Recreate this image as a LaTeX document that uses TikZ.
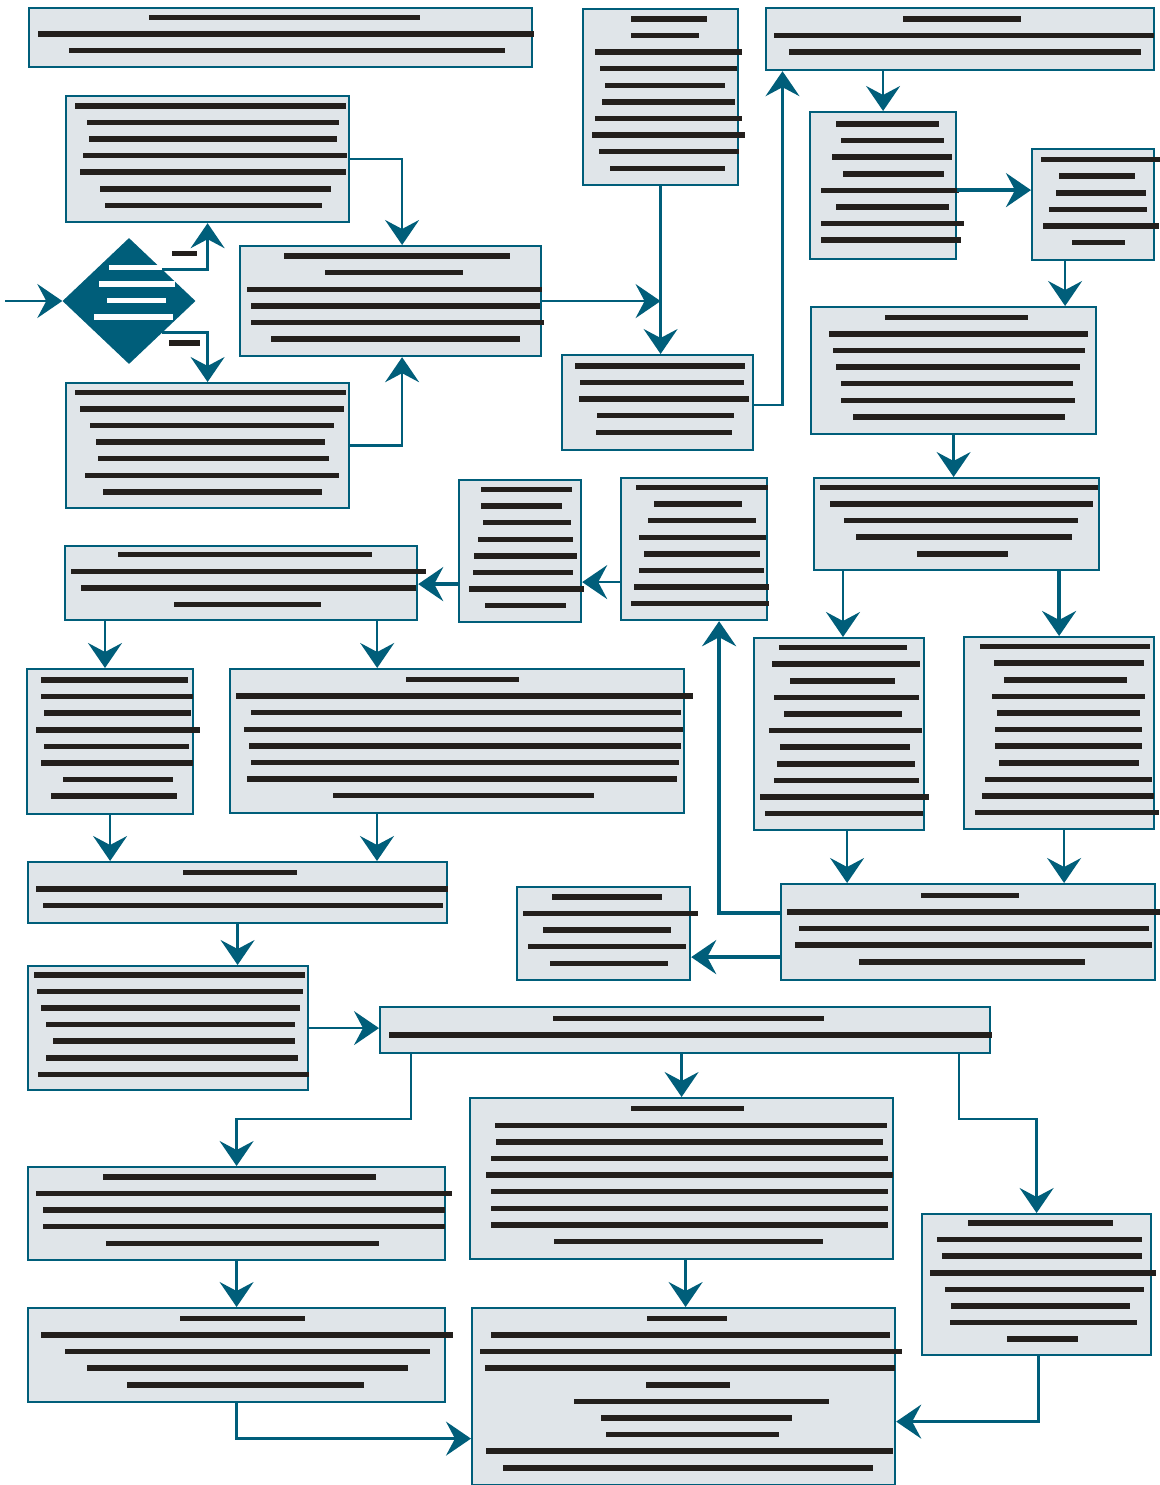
\documentclass[tikz,border=0pt]{standalone}
\usepackage{tikz}
\usetikzlibrary{arrows.meta,positioning,shapes.geometric}
\definecolor{flowblue}{RGB}{0,94,122}
\definecolor{panelgray}{RGB}{224,229,233}
\definecolor{barink}{RGB}{35,31,28}
\setlength{\parindent}{0pt}
\tikzstyle{redacted flow}=[
    x=1pt,y=-1pt,
    >={Stealth[length=25pt,width=34pt,inset=9pt]},
    every node/.style={
        inner sep=0pt,
        font=\fontsize{10pt}{16.6pt}\selectfont,
    }]
\tikzstyle{panel}=[draw=flowblue, fill=panelgray, line width=2.2pt, anchor=north west, align=left, text=barink]
\tikzstyle{decision}=[diamond, fill=flowblue, text=white, align=left, text width=90pt, inner sep=-20pt, minimum width=133pt, minimum height=126pt]
\tikzstyle{branch}=[text=barink]
\tikzstyle{flow}=[->, draw=flowblue, line width=2.4pt]
\tikzstyle{heavy flow}=[flow, line width=4pt]
\newcommand{\redact}[2]{\hspace*{#1pt}\rule[7pt]{#2pt}{5.5pt}}

\begin{document}
\begin{tikzpicture}[redacted flow]
    \useasboundingbox (0,0) rectangle (1159,1485);

    \node[panel, text width=503pt, minimum height=59pt] (b1) at (28,7) {\redact{120}{271}\\\redact{9}{496}\\\redact{40}{436}};
    \node[panel, text width=283pt, minimum height=126pt] (b2) at (65,95) {\redact{9}{271}\\\redact{21}{252}\\\redact{23}{248}\\\redact{17}{264}\\\redact{14}{266}\\\redact{34}{231}\\\redact{39}{217}};
    \node[panel, text width=283pt, minimum height=125pt] (b3) at (65,382) {\redact{9}{271}\\\redact{14}{264}\\\redact{24}{244}\\\redact{30}{229}\\\redact{32}{231}\\\redact{19}{254}\\\redact{37}{219}};
    \node[decision] (dec) at (129,301) {\redact{25}{53}\\\redact{15}{76}\\\redact{23}{59}\\\redact{10}{79}\rule[-10.5pt]{0pt}{10.5pt}};
    \node[panel, text width=301pt, minimum height=110pt] (b4) at (239,245) {\redact{44}{226}\\\redact{85}{138}\\\redact{7}{295}\\\redact{11}{289}\\\redact{11}{293}\\\redact{31}{249}};
    \node[panel, text width=155pt, minimum height=176pt] (b5) at (582,8) {\redact{48}{76}\\\redact{48}{68}\\\redact{12}{147}\\\redact{17}{137}\\\redact{22}{120}\\\redact{19}{133}\\\redact{12}{147}\\\redact{9}{153}\\\redact{16}{140}\\\redact{27}{115}};
    \node[panel, text width=191pt, minimum height=95pt] (b6) at (561,354) {\redact{13}{170}\\\redact{18}{164}\\\redact{17}{170}\\\redact{35}{137}\\\redact{34}{136}};
    \node[panel, text width=388pt, minimum height=62pt] (b7) at (765,7) {\redact{137}{118}\\\redact{8}{380}\\\redact{23}{352}};
    \node[panel, text width=146pt, minimum height=147pt] (b8) at (809,111) {\redact{26}{103}\\\redact{31}{103}\\\redact{22}{120}\\\redact{33}{101}\\\redact{11}{138}\\\redact{26}{113}\\\redact{11}{143}\\\redact{11}{140}};
    \node[panel, text width=122pt, minimum height=111pt] (b9) at (1031,148) {\redact{9}{119}\\\redact{27}{76}\\\redact{24}{90}\\\redact{17}{98}\\\redact{11}{116}\\\redact{40}{53}};
    \node[panel, text width=285pt, minimum height=127pt] (b10) at (810,306) {\redact{74}{143}\\\redact{18}{259}\\\redact{22}{252}\\\redact{25}{244}\\\redact{30}{232}\\\redact{30}{234}\\\redact{42}{212}};
    \node[panel, text width=285pt, minimum height=92pt] (b11) at (813,477) {\redact{6}{278}\\\redact{16}{263}\\\redact{30}{234}\\\redact{42}{216}\\\redact{103}{91}};
    \node[panel, text width=170pt, minimum height=192pt] (b12) at (753,637) {\redact{25}{128}\\\redact{18}{148}\\\redact{36}{105}\\\redact{20}{145}\\\redact{30}{118}\\\redact{15}{153}\\\redact{26}{130}\\\redact{23}{138}\\\redact{20}{145}\\\redact{6}{169}\\\redact{11}{158}};
    \node[panel, text width=190pt, minimum height=192pt] (b13) at (963,636) {\redact{16}{170}\\\redact{30}{150}\\\redact{40}{123}\\\redact{28}{153}\\\redact{33}{143}\\\redact{31}{147}\\\redact{31}{147}\\\redact{35}{140}\\\redact{21}{167}\\\redact{18}{172}\\\redact{11}{184}};
    \node[panel, text width=374pt, minimum height=96pt] (b14) at (780,883) {\redact{140}{98}\\\redact{6}{373}\\\redact{18}{350}\\\redact{14}{357}\\\redact{78}{226}};
    \node[panel, text width=173pt, minimum height=93pt] (b15) at (516,886) {\redact{35}{110}\\\redact{6}{175}\\\redact{26}{128}\\\redact{11}{158}\\\redact{33}{118}};
    \node[panel, text width=146pt, minimum height=142pt] (b16) at (620,477) {\redact{15}{132}\\\redact{33}{88}\\\redact{27}{108}\\\redact{18}{127}\\\redact{23}{116}\\\redact{18}{125}\\\redact{13}{135}\\\redact{10}{138}};
    \node[panel, text width=122pt, minimum height=142pt] (b17) at (458,479) {\redact{22}{91}\\\redact{22}{81}\\\redact{24}{88}\\\redact{19}{95}\\\redact{15}{103}\\\redact{14}{100}\\\redact{10}{115}\\\redact{26}{81}};
    \node[panel, text width=352pt, minimum height=74pt] (b18) at (64,545) {\redact{53}{254}\\\redact{6}{355}\\\redact{16}{335}\\\redact{109}{147}};
    \node[panel, text width=166pt, minimum height=145pt] (b19) at (26,668) {\redact{14}{147}\\\redact{14}{152}\\\redact{17}{147}\\\redact{9}{164}\\\redact{17}{145}\\\redact{14}{152}\\\redact{36}{110}\\\redact{24}{126}};
    \node[panel, text width=454pt, minimum height=144pt] (b20) at (229,668) {\redact{176}{113}\\\redact{6}{457}\\\redact{21}{430}\\\redact{14}{439}\\\redact{19}{432}\\\redact{21}{428}\\\redact{17}{430}\\\redact{103}{261}};
    \node[panel, text width=419pt, minimum height=61pt] (b21) at (27,861) {\redact{155}{114}\\\redact{8}{412}\\\redact{15}{400}};
    \node[panel, text width=280pt, minimum height=124pt] (b22) at (27,965) {\redact{6}{271}\\\redact{9}{266}\\\redact{13}{259}\\\redact{18}{249}\\\redact{25}{242}\\\redact{18}{252}\\\redact{10}{271}};
    \node[panel, text width=610pt, minimum height=46pt] (b23) at (379,1006) {\redact{173}{271}\\\redact{9}{603}};
    \node[panel, text width=417pt, minimum height=93pt] (b24) at (27,1166) {\redact{75}{273}\\\redact{8}{416}\\\redact{15}{402}\\\redact{15}{402}\\\redact{78}{273}};
    \node[panel, text width=423pt, minimum height=161pt] (b25) at (469,1097) {\redact{161}{113}\\\redact{25}{392}\\\redact{26}{387}\\\redact{21}{397}\\\redact{16}{407}\\\redact{21}{397}\\\redact{21}{397}\\\redact{21}{397}\\\redact{84}{269}};
    \node[panel, text width=229pt, minimum height=141pt] (b26) at (921,1213) {\redact{46}{145}\\\redact{15}{205}\\\redact{20}{200}\\\redact{8}{226}\\\redact{23}{199}\\\redact{29}{179}\\\redact{28}{187}\\\redact{85}{71}};
    \node[panel, text width=417pt, minimum height=94pt] (b27) at (27,1307) {\redact{152}{125}\\\redact{13}{412}\\\redact{37}{365}\\\redact{59}{321}\\\redact{99}{237}};
    \node[panel, text width=423pt, minimum height=177pt] (b28) at (471,1307) {\redact{175}{80}\\\redact{19}{399}\\\redact{8}{422}\\\redact{13}{410}\\\redact{174}{84}\\\redact{102}{255}\\\redact{129}{191}\\\redact{134}{173}\\\redact{14}{407}\\\redact{31}{370}};

    \coordinate (entry) at (5,301);

    \draw[flow] (entry) -- (dec.west);
    \draw[flow] (dec.north east) -| (b2.south) node[branch, pos=0.25, above=12pt] (tagup) {\rule{25pt}{5.5pt}};
    \draw[flow] (dec.south east) -| (b3.north) node[branch, pos=0.25, below=6.5pt] (tagdown) {\rule{31pt}{5.5pt}};
    \draw[flow] (b2.east) -| ([xshift=11.5pt]b4.north);
    \draw[flow] (b3.east) -| ([xshift=11.5pt]b4.south);
    \draw[flow] (b4.east) -- (b4.east -| b5.south);
    \draw[flow] (b5.south) -- (b5.south |- b6.north);
    \draw[flow] ([yshift=-2.5pt]b6.east) -| ([xshift=17.5pt]b7.south west);
    \draw[flow] (b7.south -| b8.north) -- (b8.north);
    \draw[heavy flow] ([yshift=-4.5pt]b8.east) -- ([yshift=-4.5pt]b8.east -| b9.west);
    \draw[flow] ([xshift=-28pt]b9.south) -- ([xshift=-28pt]b9.south |- b10.north);
    \draw[flow] (b10.south) -- (b10.south |- b11.north);
    \draw[flow] ([xshift=30pt]b11.south west) -- ([xshift=30pt]b11.south west |- b12.north);
    \draw[heavy flow] (b11.south -| b13.north) -- (b13.north);
    \draw[flow] ([xshift=8pt]b12.south) -- ([xshift=8pt]b12.south |- b14.north);
    \draw[flow] ([xshift=5pt]b13.south) -- ([xshift=5pt]b13.south |- b14.north);
    \draw[heavy flow] ([yshift=-25pt]b14.west) -- ([yshift=-25pt]b14.west -| b15.east);
    \draw[heavy flow] ([yshift=19pt]b14.west) -| ([xshift=25pt]b16.south);
    \draw[flow] ([yshift=-33pt]b16.west) -- ([yshift=-33pt]b16.west -| b17.east);
    \draw[heavy flow] ([yshift=-33pt]b17.west) -- ([yshift=-33pt]b17.west -| b18.east);
    \draw[flow] ([xshift=41pt]b18.south west) -- ([xshift=41pt]b18.south west |- b19.north);
    \draw[flow] ([xshift=-41pt]b18.south east) -- ([xshift=-41pt]b18.south east |- b20.north);
    \draw[flow] (b19.south) -- (b19.south |- b21.north);
    \draw[flow] ([xshift=148pt]b20.south west) -- ([xshift=148pt]b20.south west |- b21.north);
    \draw[flow] (b21.south) -- (b21.south |- b22.north);
    \draw[flow] (b22.east) -- (b22.east -| b23.west);
    \draw[flow] ([xshift=32pt]b23.south west) -- ++(0,65) -| (b24.north);
    \draw[flow] (b23.south -| b25.north) -- (b25.north);
    \draw[flow] ([xshift=-32pt]b23.south east) -- ++(0,65) -| (b26.north);
    \draw[flow] (b24.south) -- (b27.north);
    \draw[flow] ([xshift=4pt]b25.south) -- ([xshift=4pt]b25.south |- b28.north);
    \draw[flow] (b27.south) |- ([yshift=-42pt]b28.west);
    \draw[flow] ([xshift=2pt]b26.south) |- ([yshift=-25pt]b28.east);
\end{tikzpicture}
\end{document}
